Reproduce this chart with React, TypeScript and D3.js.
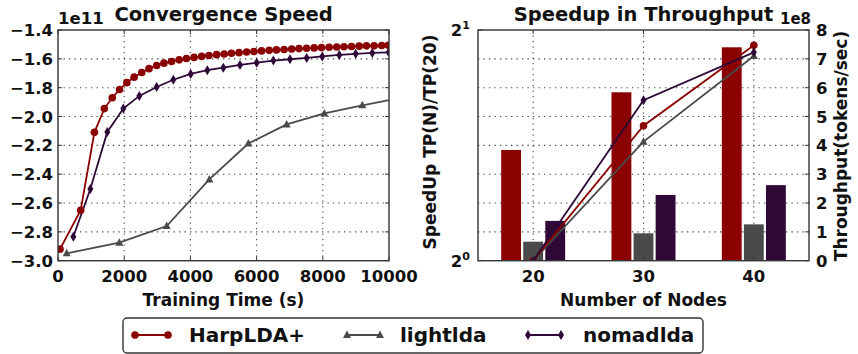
import React from "react";
import * as d3 from "d3";

// convergence curves: training time (s) vs log-likelihood (x1e11)
const harpTime = [60, 685, 1100, 1400, 1640, 1860, 2080, 2300, 2530, 2750, 2980, 3200, 3430, 3660, 3880, 4110, 4340, 4560, 4790, 5020, 5240, 5470, 5700, 5920, 6150, 6380, 6600, 6830, 7060, 7280, 7510, 7740, 7960, 8190, 8420, 8640, 8870, 9100, 9320, 9550, 9780, 9980];
const harpLL = [-2.92, -2.65, -2.11, -1.945, -1.87, -1.813, -1.765, -1.727, -1.695, -1.668, -1.646, -1.63, -1.618, -1.607, -1.598, -1.59, -1.583, -1.577, -1.571, -1.566, -1.561, -1.557, -1.553, -1.549, -1.545, -1.541, -1.538, -1.535, -1.532, -1.529, -1.527, -1.524, -1.522, -1.52, -1.518, -1.516, -1.514, -1.512, -1.51, -1.509, -1.507, -1.506];
const lightTime = [262, 1852, 3284, 4572, 5750, 6908, 8046, 9194, 10330];
const lightLL = [-2.949, -2.875, -2.76, -2.436, -2.187, -2.055, -1.979, -1.922, -1.872];
const nomadTime = [463, 977, 1490, 1974, 2457, 2981, 3484, 4009, 4511, 4994, 5498, 6003, 6506, 7009, 7513, 7985, 8498, 8994, 9496, 9990];
const nomadLL = [-2.834, -2.503, -2.107, -1.945, -1.857, -1.795, -1.745, -1.705, -1.679, -1.661, -1.642, -1.627, -1.612, -1.603, -1.594, -1.583, -1.573, -1.565, -1.559, -1.555];

const timeTicks = [0, 2000, 4000, 6000, 8000, 10000];
const llTicks = [-3.0, -2.8, -2.6, -2.4, -2.2, -2.0, -1.8, -1.6, -1.4];

// throughput (x1e8 tokens/sec) and speedup relative to 20 nodes
const nodes = [20, 30, 40];
const harpTput = [3.84, 5.84, 7.4];
const lightTput = [0.66, 0.95, 1.26];
const nomadTput = [1.38, 2.28, 2.62];
const harpSpeedup = [1, 1.5, 1.91];
const lightSpeedup = [1, 1.43, 1.85];
const nomadSpeedup = [1, 1.62, 1.87];
const tputTicks = [0, 1, 2, 3, 4, 5, 6, 7, 8];

const RED = "#8b0000";
const GRAY = "#4a4a4a";
const PURPLE = "#2e0836";
const FONT = "DejaVu Sans, sans-serif";

const top = 30;
const bottom = 260.7;

const tx = d3.scaleLinear().domain([0, 10000]).range([58, 389]);
const ly = d3.scaleLinear().domain([-3.0, -1.4]).range([bottom, top]);
const nx = d3.scaleLinear().domain([15, 45]).range([478, 809]);
const sy = d3.scaleLog().base(2).domain([1, 2]).range([bottom, top]);
const ty = d3.scaleLinear().domain([0, 8]).range([bottom, top]);

type Kind = "circle" | "triangle" | "diamond";

const Marker = ({ kind, x, y, color }: { kind: Kind; x: number; y: number; color: string }) => {
  if (kind === "circle") return <circle cx={x} cy={y} r={3.8} fill={color} />;
  if (kind === "triangle")
    return <path d={`M${x},${y - 4.5}L${x + 4},${y + 3}L${x - 4},${y + 3}Z`} fill={color} />;
  return <path d={`M${x},${y - 5}L${x + 3},${y}L${x},${y + 5}L${x - 3},${y}Z`} fill={color} />;
};

const Series = ({ xs, ys, color, kind, sx, syf }: {
  xs: number[]; ys: number[]; color: string; kind: Kind;
  sx: (v: number) => number; syf: (v: number) => number;
}) => {
  const pts = xs.map((x, i) => [sx(x), syf(ys[i])] as [number, number]);
  const line = d3.line();
  return (
    <g>
      <path d={line(pts) || ""} fill="none" stroke={color} strokeWidth={1.8} />
      {pts.map((p, i) => <Marker key={i} kind={kind} x={p[0]} y={p[1]} color={color} />)}
    </g>
  );
};

const grid = { stroke: "#444", strokeWidth: 1.1, strokeDasharray: "1.3 4.2" };
const tickText = { fontFamily: FONT, fontWeight: "bold" as const, fontSize: 16.5, fill: "#111" };
const labelText = { fontFamily: FONT, fontWeight: "bold" as const, fontSize: 17, fill: "#111" };
const titleText = { fontFamily: FONT, fontWeight: "bold" as const, fontSize: 19.5, fill: "#111" };

const ConvergencePanel = () => {
  const [x0, x1] = tx.range();
  return (
    <g>
      <defs>
        <clipPath id="clipL"><rect x={x0} y={top} width={x1 - x0} height={bottom - top} /></clipPath>
      </defs>
      {timeTicks.slice(1, -1).map((t) => (
        <line key={t} x1={tx(t)} x2={tx(t)} y1={top} y2={bottom} {...grid} />
      ))}
      {llTicks.slice(1, -1).map((v) => (
        <line key={v} x1={x0} x2={x1} y1={ly(v)} y2={ly(v)} {...grid} />
      ))}
      <g clipPath="url(#clipL)">
        <Series xs={lightTime} ys={lightLL} color={GRAY} kind="triangle" sx={tx} syf={ly} />
        <Series xs={nomadTime} ys={nomadLL} color={PURPLE} kind="diamond" sx={tx} syf={ly} />
        <Series xs={harpTime} ys={harpLL} color={RED} kind="circle" sx={tx} syf={ly} />
      </g>
      {timeTicks.map((t) => (
        <g key={t}>
          <line x1={tx(t)} x2={tx(t)} y1={bottom} y2={bottom - 4} stroke="#333" />
          <line x1={tx(t)} x2={tx(t)} y1={top} y2={top + 4} stroke="#333" />
          <text x={tx(t)} y={282} textAnchor="middle" {...tickText}>{t}</text>
        </g>
      ))}
      {llTicks.map((v) => (
        <g key={v}>
          <line x1={x0} x2={x0 + 4} y1={ly(v)} y2={ly(v)} stroke="#333" />
          <line x1={x1} x2={x1 - 4} y1={ly(v)} y2={ly(v)} stroke="#333" />
          <text x={53} y={ly(v) + 6} textAnchor="end" {...tickText}>
            {v.toFixed(1).replace("-", "\u2212")}
          </text>
        </g>
      ))}
      <rect x={x0} y={top} width={x1 - x0} height={bottom - top} fill="none" stroke="#333" strokeWidth={1.4} />
      <text x={58} y={24} {...tickText}>1e11</text>
      <text x={(x0 + x1) / 2} y={21} textAnchor="middle" {...titleText}>Convergence Speed</text>
      <text x={(x0 + x1) / 2} y={306} textAnchor="middle" {...labelText}>Training Time (s)</text>
    </g>
  );
};

const ThroughputPanel = () => {
  const [x0, x1] = nx.range();
  const barW = nx(1.8) - nx(0);
  const bars = [
    { vals: harpTput, off: -2, color: RED },
    { vals: lightTput, off: 0, color: GRAY },
    { vals: nomadTput, off: 2, color: PURPLE },
  ];
  return (
    <g>
      <defs>
        <clipPath id="clipR"><rect x={x0} y={top} width={x1 - x0} height={bottom - top} /></clipPath>
      </defs>
      {nodes.map((n) => (
        <line key={n} x1={nx(n)} x2={nx(n)} y1={top} y2={bottom} {...grid} />
      ))}
      {tputTicks.slice(1, -1).map((v) => (
        <line key={v} x1={x0} x2={x1} y1={ty(v)} y2={ty(v)} {...grid} />
      ))}
      <g clipPath="url(#clipR)">
        {bars.map((b) =>
          b.vals.map((v, i) => (
            <rect key={b.color + i} x={nx(nodes[i] + b.off) - barW / 2} y={ty(v)}
              width={barW} height={bottom - ty(v)} fill={b.color} />
          ))
        )}
        <Series xs={nodes} ys={lightSpeedup} color={GRAY} kind="triangle" sx={nx} syf={sy} />
        <Series xs={nodes} ys={harpSpeedup} color={RED} kind="circle" sx={nx} syf={sy} />
        <Series xs={nodes} ys={nomadSpeedup} color={PURPLE} kind="diamond" sx={nx} syf={sy} />
      </g>
      {nodes.map((n) => (
        <g key={n}>
          <line x1={nx(n)} x2={nx(n)} y1={bottom} y2={bottom - 4} stroke="#333" />
          <line x1={nx(n)} x2={nx(n)} y1={top} y2={top + 4} stroke="#333" />
          <text x={nx(n)} y={282} textAnchor="middle" {...tickText}>{n}</text>
        </g>
      ))}
      {tputTicks.map((v) => (
        <g key={v}>
          <line x1={x1} x2={x1 - 4} y1={ty(v)} y2={ty(v)} stroke="#333" />
          <text x={816} y={ty(v) + 6} {...tickText}>{v}</text>
        </g>
      ))}
      {[1, 2].map((v, i) => (
        <g key={v}>
          <line x1={x0} x2={x0 + 4} y1={sy(v)} y2={sy(v)} stroke="#333" />
          <text x={470} y={sy(v) + 6} textAnchor="end" {...tickText}>
            2<tspan dy={-7} fontSize={11}>{i}</tspan>
          </text>
        </g>
      ))}
      <rect x={x0} y={top} width={x1 - x0} height={bottom - top} fill="none" stroke="#333" strokeWidth={1.4} />
      <text x={(x0 + x1) / 2} y={21} textAnchor="middle" {...titleText}>Speedup in Throughput</text>
      <text x={780} y={24} {...tickText} fontSize={15}>1e8</text>
      <text x={(x0 + x1) / 2} y={306} textAnchor="middle" {...labelText}>Number of Nodes</text>
      <text transform="translate(436,142) rotate(-90)" textAnchor="middle" {...labelText}>SpeedUp TP(N)/TP(20)</text>
      <text transform="translate(847,146) rotate(-90)" textAnchor="middle" {...labelText}>Throughput(tokens/sec)</text>
    </g>
  );
};

const legendItems = [
  { name: "HarpLDA+", color: RED, kind: "circle" as Kind, x0: 135, x1: 168, tx: 189 },
  { name: "lightlda", color: GRAY, kind: "triangle" as Kind, x0: 347, x1: 380, tx: 400 },
  { name: "nomadlda", color: PURPLE, kind: "diamond" as Kind, x0: 528, x1: 561, tx: 583 },
];

const Legend = () => (
  <g>
    <rect x={123} y={318} width={580} height={35} rx={4} fill="#fff" stroke="#333" strokeWidth={1.4} />
    {legendItems.map((d) => (
      <g key={d.name}>
        <line x1={d.x0} x2={d.x1} y1={335} y2={335} stroke={d.color} strokeWidth={1.8} />
        <Marker kind={d.kind} x={d.x0} y={335} color={d.color} />
        <Marker kind={d.kind} x={d.x1} y={335} color={d.color} />
        <text x={d.tx} y={342} fontFamily={FONT} fontWeight="bold" fontSize={20} fill="#111">{d.name}</text>
      </g>
    ))}
  </g>
);

export default function App() {
  return (
    <svg width={858} height={354} style={{ position: "absolute", left: 0, top: 0, background: "#fff" }}>
      <rect width={858} height={354} fill="#fff" />
      <ConvergencePanel />
      <ThroughputPanel />
      <Legend />
    </svg>
  );
}
